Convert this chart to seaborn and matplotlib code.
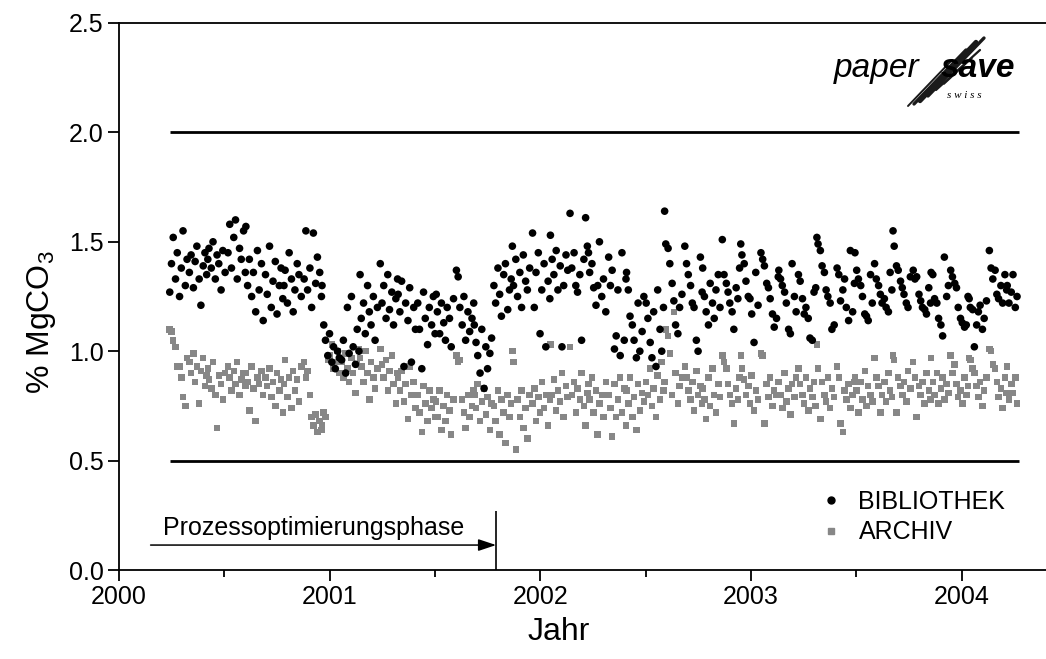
import matplotlib
matplotlib.use("Agg")
import matplotlib.pyplot as plt
import numpy as np
import pandas as pd
import seaborn as sns
from matplotlib.lines import Line2D
from matplotlib.ticker import FormatStrFormatter, MultipleLocator

# sampling days counted from 2000-01-01, values in % MgCO3
days_2000 = [
    88, 91, 94, 98, 101, 105, 108, 111, 115, 118,
    122, 125, 129, 132, 135, 139, 142, 146, 149, 152,
    154, 156, 160, 163, 167, 170, 173, 177, 180, 184,
    189, 192, 195, 199, 202, 205, 209, 212, 216, 219,
    220, 223, 226, 230, 233, 237, 240, 243, 247, 250,
    254, 257, 261, 264, 267, 271, 274, 278, 281, 284,
    286, 288, 292, 295, 299, 302, 305, 309, 312, 316,
    321, 324, 327, 331, 334, 337, 341, 344, 348, 351,
]
bib_2000 = [
    1.27, 1.40, 1.52, 1.33, 1.45, 1.25, 1.38, 1.55, 1.30, 1.42,
    1.36, 1.44, 1.29, 1.41, 1.48, 1.33, 1.21, 1.39, 1.45, 1.35,
    1.42, 1.47, 1.38, 1.50, 1.33, 1.44, 1.40, 1.28, 1.46, 1.36,
    1.45, 1.58, 1.38, 1.52, 1.60, 1.33, 1.47, 1.42, 1.55, 1.36,
    1.57, 1.30, 1.42, 1.25, 1.36, 1.18, 1.46, 1.28, 1.40, 1.14,
    1.35, 1.26, 1.48, 1.20, 1.32, 1.41, 1.17, 1.30, 1.38, 1.24,
    1.30, 1.37, 1.22, 1.45, 1.33, 1.18, 1.28, 1.40, 1.35, 1.25,
    1.33, 1.55, 1.28, 1.38, 1.20, 1.54, 1.31, 1.43, 1.36, 1.25,
]
arc_2000 = [
    1.10, 1.09, 1.05, 1.02, 0.93, 0.93, 0.88, 0.79, 0.75, 0.97,
    0.95, 0.90, 0.99, 0.86, 0.93, 0.76, 0.91, 0.97, 0.84, 0.89,
    0.92, 0.87, 0.83, 0.95, 0.80, 0.65, 0.89, 0.85, 0.78, 0.90,
    0.93, 0.88, 0.82, 0.91, 0.85, 0.95, 0.80, 0.87, 0.90, 0.84,
    0.90, 0.86, 0.73, 0.93, 0.83, 0.68, 0.88, 0.85, 0.91, 0.80,
    0.88, 0.84, 0.92, 0.79, 0.86, 0.75, 0.90, 0.82, 0.87, 0.72,
    0.85, 0.96, 0.79, 0.88, 0.74, 0.91, 0.82, 0.87, 0.77, 0.93,
    0.95, 0.88, 0.91, 0.80, 0.70, 0.66, 0.71, 0.63, 0.68, 0.64,
]

days_2001 = [
    352, 355, 358, 362, 365, 369, 372, 375, 379, 382,
    386, 389, 393, 396, 399, 403, 406, 410, 413, 416,
    418, 420, 424, 427, 431, 434, 437, 441, 444, 448,
    453, 456, 459, 463, 466, 469, 473, 476, 480, 483,
    484, 487, 490, 494, 497, 501, 504, 507, 511, 514,
    518, 521, 525, 528, 531, 535, 538, 542, 545, 548,
    550, 552, 556, 559, 563, 566, 569, 573, 576, 580,
    585, 588, 591, 595, 598, 601, 605, 608, 612, 615,
    616, 619, 622, 626, 629, 633, 636, 639, 643, 646,
    650, 653, 657, 660, 663, 667, 670, 674, 677, 680,
    682, 684, 688, 691, 695, 698, 701, 705, 708, 712,
]
bib_2001 = [
    1.30, 1.12, 1.05, 0.98, 1.08, 0.95, 1.02, 0.92, 1.00, 0.97,
    0.96, 1.05, 0.90, 1.20, 0.99, 1.25, 1.02, 0.94, 1.10, 1.00,
    1.35, 1.15, 1.22, 1.08, 1.30, 1.18, 1.12, 1.25, 1.05, 1.20,
    1.40, 1.22, 1.30, 1.15, 1.35, 1.19, 1.27, 1.12, 1.24, 1.33,
    1.26, 1.18, 1.32, 0.93, 1.22, 1.14, 1.29, 0.95, 1.20, 1.10,
    1.22, 1.10, 0.92, 1.27, 1.15, 1.03, 1.20, 1.12, 1.25, 1.08,
    1.26, 1.18, 1.08, 1.22, 1.13, 1.05, 1.20, 1.15, 1.02, 1.24,
    1.37, 1.34, 1.20, 1.12, 1.25, 1.05, 1.18, 1.09, 1.15, 1.22,
    1.12, 1.04, 0.98, 0.90, 1.10, 0.83, 1.02, 0.92, 0.99, 1.06,
    1.30, 1.22, 1.38, 1.26, 1.16, 1.35, 1.40, 1.19, 1.28, 1.33,
    1.48, 1.30, 1.42, 1.25, 1.36, 1.20, 1.44, 1.32, 1.28, 1.38,
]
arc_2001 = [
    0.66, 0.72, 0.70, 0.96, 0.98, 1.03, 0.92, 0.95, 1.00, 0.90,
    0.95, 0.88, 0.99, 0.92, 0.86, 0.97, 0.90, 0.81, 0.94, 1.01,
    0.97, 0.93, 0.86, 1.00, 0.90, 0.78, 0.95, 0.88, 0.83, 0.92,
    1.01, 0.94, 0.88, 0.96, 0.82, 0.91, 0.98, 0.85, 0.76, 0.90,
    0.88, 0.82, 0.91, 0.77, 0.85, 0.69, 0.93, 0.80, 0.86, 0.74,
    0.80, 0.72, 0.63, 0.84, 0.76, 0.68, 0.82, 0.74, 0.78, 0.70,
    0.77, 0.70, 0.82, 0.64, 0.75, 0.68, 0.80, 0.73, 0.62, 0.78,
    0.98, 0.95, 0.96, 0.78, 0.72, 0.65, 0.80, 0.70, 0.75, 0.82,
    0.80, 0.74, 0.85, 0.68, 0.77, 0.83, 0.71, 0.79, 0.64, 0.76,
    0.75, 0.68, 0.82, 0.62, 0.78, 0.72, 0.58, 0.80, 0.70, 0.76,
    1.00, 0.95, 0.55, 0.78, 0.70, 0.82, 0.65, 0.74, 0.60, 0.80,
]

days_2002 = [
    717, 720, 723, 727, 730, 733, 737, 740, 744, 747,
    748, 751, 754, 758, 761, 765, 768, 771, 775, 778,
    782, 785, 789, 792, 795, 799, 802, 806, 809, 812,
    814, 816, 820, 823, 827, 830, 833, 837, 840, 844,
    849, 852, 855, 859, 862, 865, 869, 872, 876, 879,
    880, 883, 886, 890, 893, 897, 900, 903, 907, 910,
    914, 917, 921, 924, 927, 931, 934, 938, 941, 944,
    946, 948, 952, 955, 959, 962, 965, 969, 972, 976,
    981, 984, 987, 991, 994, 997, 1001, 1004, 1008, 1011,
    1012, 1015, 1018, 1022, 1025, 1029, 1032, 1035, 1039, 1042,
    1046, 1049, 1053, 1056, 1059, 1063, 1066, 1070, 1073, 1076,
]
bib_2002 = [
    1.54, 1.20, 1.36, 1.45, 1.08, 1.28, 1.40, 1.02, 1.32, 1.24,
    1.53, 1.42, 1.35, 1.46, 1.28, 1.39, 1.02, 1.30, 1.44, 1.37,
    1.63, 1.38, 1.45, 1.30, 1.27, 1.35, 1.05, 1.42, 1.61, 1.48,
    1.45, 1.36, 1.40, 1.29, 1.21, 1.30, 1.50, 1.25, 1.33, 1.18,
    1.43, 1.30, 1.37, 1.01, 1.07, 1.28, 0.98, 1.45, 1.05, 1.33,
    1.36, 1.28, 1.16, 1.12, 1.05, 0.97, 1.22, 1.00, 1.09, 1.25,
    1.22, 1.15, 1.04, 0.97, 1.18, 0.93, 1.28, 1.10, 1.00, 1.20,
    1.64, 1.49, 1.47, 1.40, 1.31, 1.23, 1.12, 1.08, 1.20, 1.26,
    1.48, 1.40, 1.35, 1.30, 1.22, 1.20, 1.05, 1.00, 1.43, 1.27,
    1.38, 1.25, 1.18, 1.12, 1.31, 1.22, 1.15, 1.28, 1.35, 1.20,
    1.51, 1.35, 1.31, 1.27, 1.22, 1.18, 1.10, 1.29, 1.24, 1.38,
]
arc_2002 = [
    0.76, 0.83, 0.68, 0.79, 0.72, 0.86, 0.74, 0.80, 0.66, 0.78,
    1.03, 0.80, 0.87, 0.73, 0.82, 0.77, 0.90, 0.70, 0.84, 0.79,
    1.02, 0.80, 0.86, 0.72, 0.83, 0.78, 0.90, 0.75, 0.66, 0.81,
    0.85, 0.78, 0.88, 0.72, 0.82, 0.62, 0.76, 0.80, 0.70, 0.86,
    0.80, 0.74, 0.61, 0.85, 0.70, 0.78, 0.88, 0.72, 0.83, 0.66,
    0.82, 0.76, 0.88, 0.70, 0.79, 0.64, 0.85, 0.73, 0.81, 0.77,
    0.86, 0.80, 0.92, 0.75, 0.83, 0.70, 0.89, 0.78, 0.95, 0.82,
    0.86, 1.10, 1.07, 0.99, 0.80, 1.18, 0.90, 0.76, 0.84, 0.88,
    0.93, 0.88, 0.82, 0.78, 0.86, 0.73, 0.91, 0.80, 0.84, 0.76,
    0.83, 0.78, 0.69, 0.88, 0.75, 0.92, 0.80, 0.72, 0.85, 0.79,
    0.98, 0.95, 0.92, 0.85, 0.80, 0.76, 0.67, 0.83, 0.78, 0.88,
]

days_2003 = [
    1078, 1080, 1084, 1087, 1091, 1094, 1097, 1101, 1104, 1108,
    1113, 1116, 1119, 1123, 1126, 1129, 1133, 1136, 1140, 1143,
    1144, 1147, 1150, 1154, 1157, 1161, 1164, 1167, 1171, 1174,
    1178, 1181, 1185, 1188, 1191, 1195, 1198, 1202, 1205, 1208,
    1210, 1212, 1216, 1219, 1223, 1226, 1229, 1233, 1236, 1240,
    1245, 1248, 1251, 1255, 1258, 1261, 1265, 1268, 1272, 1275,
    1276, 1279, 1282, 1286, 1289, 1293, 1296, 1299, 1303, 1306,
    1310, 1313, 1317, 1320, 1323, 1327, 1330, 1334, 1337, 1340,
    1342, 1344, 1348, 1351, 1355, 1358, 1361, 1365, 1368, 1372,
    1377, 1380, 1383, 1387, 1390, 1393, 1397, 1400, 1404, 1407,
    1408, 1411, 1414, 1418, 1421, 1425, 1428, 1431, 1435, 1438,
]
bib_2003 = [
    1.49, 1.44, 1.40, 1.32, 1.25, 1.24, 1.17, 1.04, 1.36, 1.21,
    1.45, 1.42, 1.39, 1.31, 1.29, 1.24, 1.17, 1.11, 1.15, 1.34,
    1.37, 1.33, 1.30, 1.27, 1.22, 1.10, 1.08, 1.40, 1.25, 1.18,
    1.35, 1.32, 1.24, 1.17, 1.20, 1.15, 1.06, 1.05, 1.27, 1.29,
    1.52, 1.49, 1.46, 1.39, 1.36, 1.28, 1.25, 1.22, 1.10, 1.12,
    1.38, 1.35, 1.23, 1.28, 1.33, 1.20, 1.14, 1.46, 1.18, 1.31,
    1.45, 1.37, 1.33, 1.30, 1.25, 1.17, 1.16, 1.14, 1.35, 1.22,
    1.40, 1.33, 1.30, 1.26, 1.22, 1.24, 1.20, 1.18, 1.36, 1.28,
    1.55, 1.48, 1.39, 1.37, 1.32, 1.29, 1.26, 1.22, 1.20, 1.34,
    1.37, 1.33, 1.34, 1.26, 1.23, 1.20, 1.19, 1.17, 1.29, 1.22,
    1.36, 1.35, 1.24, 1.22, 1.15, 1.12, 1.07, 1.43, 1.25, 1.30,
]
arc_2003 = [
    0.98, 0.92, 0.87, 0.80, 0.84, 0.76, 0.89, 0.73, 0.82, 0.78,
    0.99, 0.98, 0.67, 0.85, 0.79, 0.88, 0.75, 0.82, 0.80, 0.86,
    0.86, 0.80, 0.74, 0.90, 0.77, 0.83, 0.71, 0.85, 0.79, 0.88,
    0.92, 0.85, 0.80, 0.76, 0.88, 0.73, 0.83, 0.79, 0.86, 0.75,
    1.03, 0.92, 0.69, 0.86, 0.80, 0.77, 0.88, 0.74, 0.83, 0.79,
    0.93, 0.88, 0.67, 0.63, 0.82, 0.78, 0.85, 0.74, 0.80, 0.86,
    0.88, 0.82, 0.72, 0.86, 0.78, 0.91, 0.75, 0.84, 0.80, 0.77,
    0.97, 0.88, 0.84, 0.72, 0.80, 0.86, 0.77, 0.90, 0.82, 0.79,
    0.98, 0.96, 0.72, 0.88, 0.84, 0.80, 0.86, 0.77, 0.91, 0.83,
    0.95, 0.88, 0.70, 0.84, 0.80, 0.86, 0.76, 0.90, 0.82, 0.78,
    0.97, 0.86, 0.80, 0.90, 0.76, 0.83, 0.88, 0.78, 0.85, 0.81,
]

days_2004 = [
    1442, 1445, 1449, 1452, 1455, 1459, 1462, 1466, 1469, 1472,
    1474, 1476, 1480, 1483, 1487, 1490, 1493, 1497, 1500, 1504,
    1509, 1512, 1515, 1519, 1522, 1525, 1529, 1532, 1536, 1539,
    1540, 1543, 1547, 1550, 1554, 1557,
]
bib_2004 = [
    1.37, 1.34, 1.31, 1.29, 1.20, 1.15, 1.13, 1.11, 1.12, 1.25,
    1.24, 1.20, 1.19, 1.02, 1.12, 1.18, 1.21, 1.10, 1.15, 1.23,
    1.46, 1.38, 1.33, 1.37, 1.26, 1.24, 1.30, 1.22, 1.35, 1.28,
    1.30, 1.22, 1.27, 1.35, 1.20, 1.25,
]
arc_2004 = [
    0.98, 0.90, 0.94, 0.85, 0.79, 0.82, 0.76, 0.88, 0.80, 0.84,
    0.97, 0.96, 0.92, 0.90, 0.84, 0.79, 0.86, 0.75, 0.82, 0.88,
    1.01, 1.00, 0.94, 0.92, 0.86, 0.79, 0.83, 0.74, 0.88, 0.81,
    0.93, 0.78, 0.85, 0.81, 0.88, 0.76,
]

# tolerance band and process optimisation phase
limit_values = [0.5, 2.0]
limit_start, limit_end = 2000.24, 2004.27
phase_start, phase_end = 2000.15, 2001.79

days = np.concatenate([days_2000, days_2001, days_2002, days_2003, days_2004])
bib = np.concatenate([bib_2000, bib_2001, bib_2002, bib_2003, bib_2004])
arc = np.concatenate([arc_2000, arc_2001, arc_2002, arc_2003, arc_2004])
assert len(days) == len(bib) == len(arc)
year = 2000 + days / 365.25

n = len(year)
df = pd.DataFrame({
    "Jahr": np.concatenate([year, year]),
    "MgCO3": np.concatenate([arc, bib]),
    "Probe": ["ARCHIV"] * n + ["BIBLIOTHEK"] * n,
})

sns.set_style("ticks")
plt.rcParams["font.family"] = ["Liberation Sans", "DejaVu Sans"]
plt.rcParams["mathtext.fontset"] = "custom"
plt.rcParams["mathtext.rm"] = "Liberation Sans"
plt.rcParams["axes.linewidth"] = 1.3
for key in ["text.color", "axes.labelcolor", "xtick.color", "ytick.color",
            "axes.edgecolor"]:
    plt.rcParams[key] = "black"

colors = {"BIBLIOTHEK": "black", "ARCHIV": "#878787"}

fig = plt.figure(figsize=(10.46, 6.59), dpi=100)
ax = fig.add_axes([119 / 1046, 89 / 659, 948 / 1046, 547 / 659])

sns.scatterplot(
    data=df, x="Jahr", y="MgCO3", hue="Probe", style="Probe", size="Probe",
    palette=colors, markers={"BIBLIOTHEK": "o", "ARCHIV": "s"},
    sizes={"BIBLIOTHEK": 30, "ARCHIV": 22}, linewidth=0, legend=False, ax=ax,
)

ax.hlines(limit_values, limit_start, limit_end, colors="black", linewidth=2)

ax.annotate(
    "", xy=(phase_end, 0.114), xytext=(phase_start, 0.114),
    arrowprops=dict(arrowstyle="-|>,head_length=0.9,head_width=0.3",
                    mutation_scale=12, color="black", lw=1.1,
                    shrinkA=0, shrinkB=0),
)
ax.vlines(phase_end, 0, 0.27, colors="black", linewidth=1.2)
ax.text(2000.21, 0.16, "Prozessoptimierungsphase", fontsize=18,
        ha="left", va="baseline")

ax.set_xlim(2000, 2004.5)
ax.set_ylim(0, 2.5)
ax.xaxis.set_major_locator(MultipleLocator(1))
ax.xaxis.set_minor_locator(MultipleLocator(0.5))
ax.xaxis.set_major_formatter(FormatStrFormatter("%d"))
ax.yaxis.set_major_locator(MultipleLocator(0.5))
ax.yaxis.set_major_formatter(FormatStrFormatter("%.1f"))
ax.tick_params(which="major", direction="out", length=8, width=1.3,
               labelsize=18, pad=3, colors="black")
ax.tick_params(which="minor", direction="out", length=5, width=1.3,
               colors="black")
ax.spines["right"].set_visible(False)

ax.set_xlabel("Jahr", fontsize=23, va="center")
ax.xaxis.set_label_coords((559 - 119) / 948, (570 - 632) / 547)
ax.set_ylabel(r"% MgCO$_3$", fontsize=23, va="center")
ax.yaxis.set_label_coords((42 - 119) / 948, (570 - 322) / 547)

handles = [
    Line2D([], [], marker="o", ls="", color=colors["BIBLIOTHEK"], markersize=5),
    Line2D([], [], marker="s", ls="", color=colors["ARCHIV"], markersize=4.5),
]
fig.legend(handles, ["BIBLIOTHEK", "ARCHIV"], loc="upper left",
           bbox_to_anchor=(816 / 1046, 1 - 490 / 659), frameon=False,
           fontsize=18, handlelength=1.2, handletextpad=0.5,
           labelspacing=0.25, borderpad=0, borderaxespad=0)

# paper save swiss logo
fig.text(834 / 1046, 1 - 77 / 659, "paper", fontsize=24, style="italic",
         ha="left", va="baseline")
fig.text(941 / 1046, 1 - 77 / 659, "save", fontsize=24, style="italic",
         weight="bold", ha="left", va="baseline")
fig.text(947 / 1046, 1 - 98 / 659, "s w i s s", fontsize=8, style="italic",
         family="Liberation Serif", ha="left", va="baseline")
swoosh = [
    (908, 106, 952, 60, 1.4), (914, 104, 966, 50, 2.4),
    (920, 101, 976, 42, 3.2), (928, 96, 984, 38, 2.4),
    (936, 90, 980, 50, 1.6), (944, 84, 972, 58, 1.2),
]
for (x0, y0, x1, y1, lw) in swoosh:
    fig.add_artist(Line2D([x0 / 1046, x1 / 1046], [1 - y0 / 659, 1 - y1 / 659],
                          color="#1a1a1a", lw=lw, solid_capstyle="round",
                          transform=fig.transFigure))
fig.add_artist(Line2D([931 / 1046, 947 / 1046], [1 - 64 / 659, 1 - 64 / 659],
                      color="white", lw=1.2, transform=fig.transFigure))

fig.savefig("out.png", dpi=100)
